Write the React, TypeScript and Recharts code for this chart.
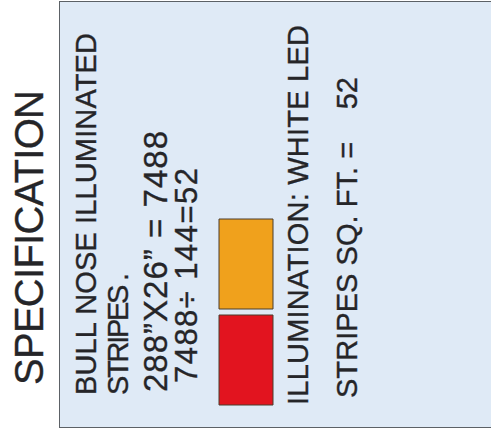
import React from "react";
import { BarChart, Bar, XAxis, YAxis, Cell, Customized } from "recharts";

// swatches shown in the spec sheet (one bar each, same length)
const swatchNames = ["orange", "red"];
const swatchValues = [1, 1];
const swatchColors = ["#f0a11c", "#e2141f"];

const title = "SPECIFICATION";
const specLines = [
  "BULL NOSE ILLUMINATED",
  "STRIPES .",
  "288\u201DX26\u201D = 7488",
  "7488\u00F7 144=52",
];
const noteLines = ["ILLUMINATION: WHITE LED", "STRIPES SQ. FT. =    52"];

const data = swatchNames.map((name, i) => ({ name, value: swatchValues[i] }));

const FONT = "'Liberation Sans', Arial, Helvetica, sans-serif";

// x = baseline (rotated), y = start, len = measured run length, size = font size
const textLayout = [
  { x: 96, y: 395, len: 362, size: 29 },
  { x: 128, y: 395, len: 122, size: 29 },
  { x: 167, y: 392, len: 261, size: 33 },
  { x: 197, y: 383, len: 215, size: 31 },
];
const noteLayout = [
  { x: 308, y: 405, len: 380, size: 29 },
  { x: 357, y: 398, len: 321, size: 29 },
];

function Texts() {
  const rot = (t: string, l: { x: number; y: number; len: number; size: number }, key: string) => (
    <text
      key={key}
      x={l.x}
      y={l.y}
      transform={`rotate(-90, ${l.x}, ${l.y})`}
      fontFamily={FONT}
      fontSize={l.size}
      fill="#252528"
      stroke="#252528"
      strokeWidth={0.35}
      textLength={l.len}
      lengthAdjust="spacing"
      style={{ whiteSpace: "pre" }}
    >
      {t}
    </text>
  );
  return (
    <g>
      {rot(title, { x: 43, y: 385, len: 295, size: 40 }, "title")}
      {specLines.map((t, i) => rot(t, textLayout[i], `s${i}`))}
      {noteLines.map((t, i) => rot(t, noteLayout[i], `n${i}`))}
    </g>
  );
}

export default function App() {
  return (
    <div style={{ position: "absolute", left: 0, top: 0, width: 491, height: 435, background: "#ffffff" }}>
      {/* light blue panel */}
      <div
        style={{
          position: "absolute",
          left: 59,
          top: 1,
          width: 440,
          height: 427,
          background: "#dfeaf6",
          border: "1px solid #5c6166",
          boxSizing: "border-box",
        }}
      />
      <div style={{ position: "absolute", left: 0, top: 0 }}>
        <BarChart
          width={491}
          height={435}
          data={data}
          layout="vertical"
          margin={{ top: 216, bottom: 27, left: 219, right: 218 }}
        >
          <XAxis type="number" domain={[0, 1]} hide />
          <YAxis type="category" dataKey="name" hide />
          <Bar dataKey="value" barSize={90} stroke="#4a3c2c" strokeWidth={1} isAnimationActive={false}>
            {data.map((d, i) => (
              <Cell key={d.name} fill={swatchColors[i]} />
            ))}
          </Bar>
          <Customized component={Texts} />
        </BarChart>
      </div>
    </div>
  );
}
